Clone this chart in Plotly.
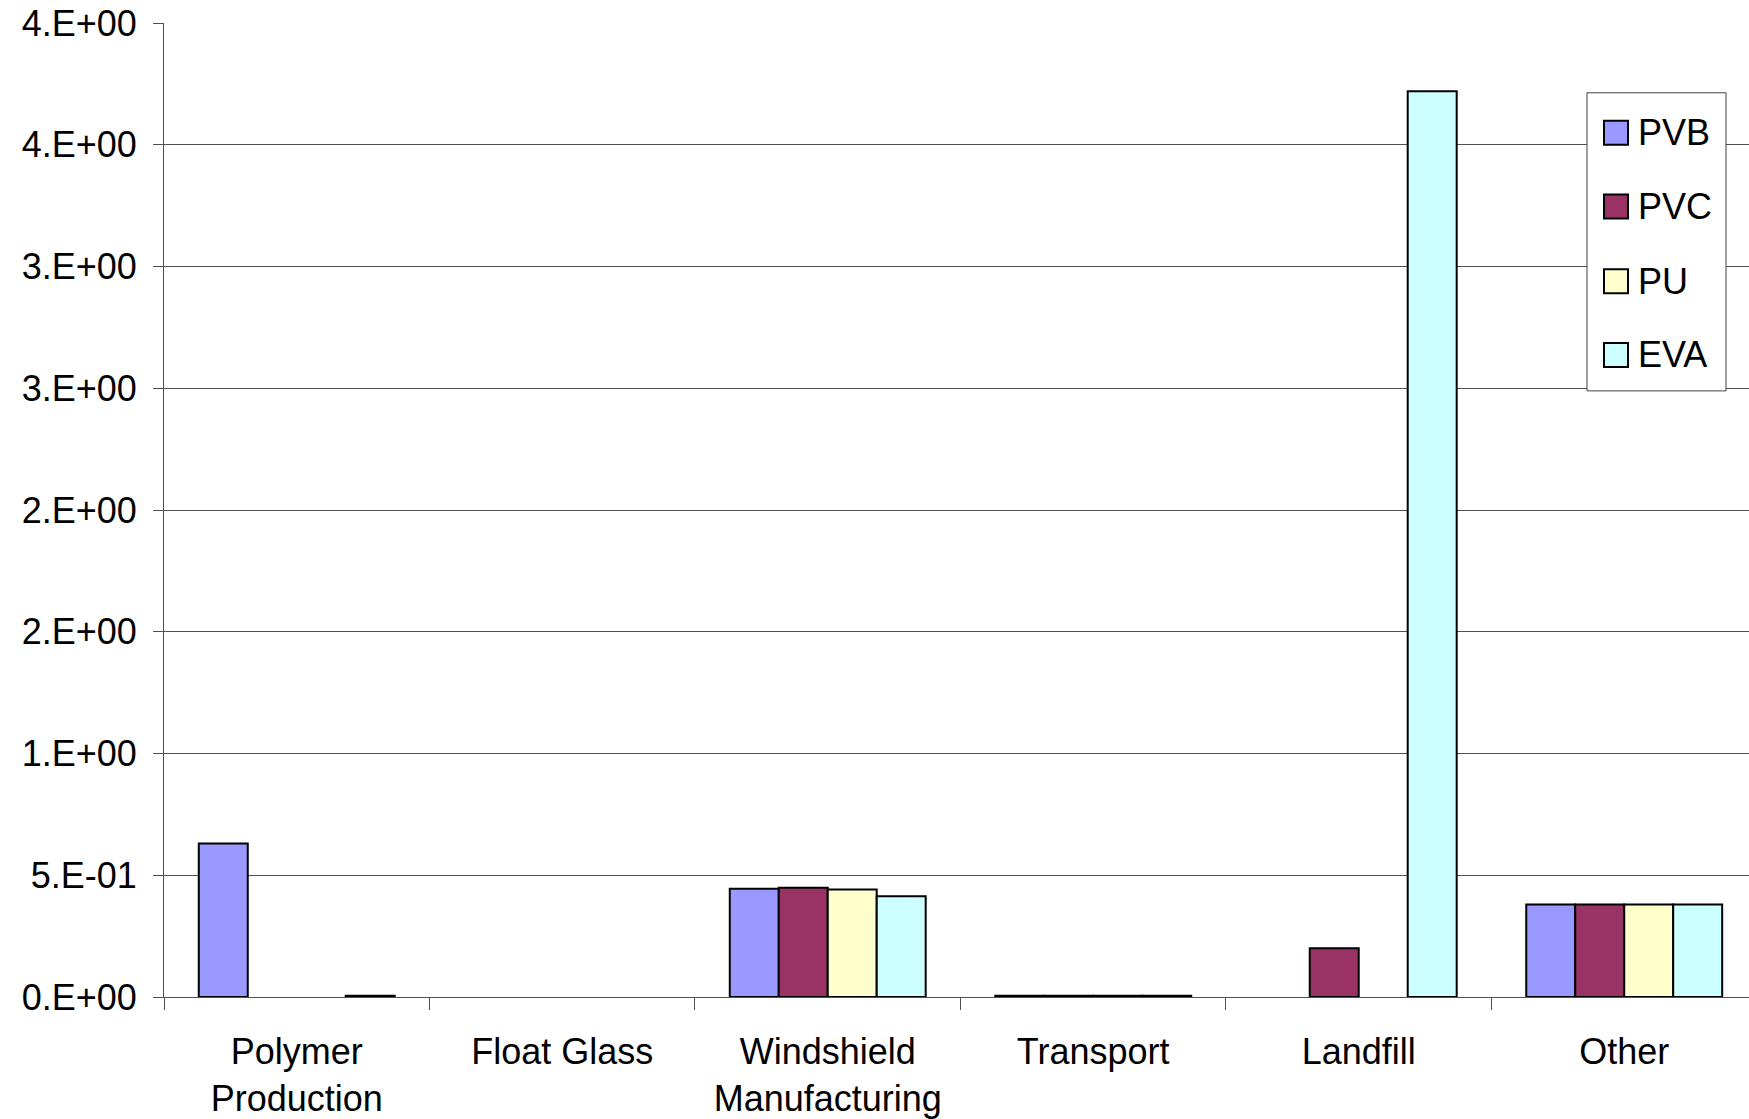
import plotly.graph_objects as go

# Life-cycle stage categories and per-interlayer values
categories = ["Polymer<br>Production", "Float Glass", "Windshield<br>Manufacturing",
              "Transport", "Landfill", "Other"]
pvb = [0.63, None, 0.445, 0.005, None, 0.38]
pvc = [None, None, 0.449, 0.005, 0.20, 0.38]
pu = [None, None, 0.441, 0.005, None, 0.38]
eva = [0.005, None, 0.414, 0.005, 3.72, 0.38]

series_names = ["PVB", "PVC", "PU", "EVA"]
series_values = [pvb, pvc, pu, eva]
series_colors = ["#9999FF", "#993366", "#FFFFCC", "#CCFFFF"]

y_tick_vals = [0, 0.5, 1.0, 1.5, 2.0, 2.5, 3.0, 3.5, 4.0]
y_tick_text = ["0.E+00", "5.E-01", "1.E+00", "2.E+00", "2.E+00",
               "3.E+00", "3.E+00", "4.E+00", "4.E+00"]

FONT = "Liberation Sans, Arial, sans-serif"
FS = 36
W, H = 1749, 1119
ML, MR, MT, MB = 164, 0, 23, 119
PW, PH = W - ML - MR, H - MT - MB


def px_x(p):
    return (p - ML) / PW


def px_y(p):
    return (H - MB - p) / PH


fig = go.Figure()
for name, vals, col in zip(series_names, series_values, series_colors):
    fig.add_trace(go.Bar(
        name=name, x=categories, y=vals,
        marker=dict(color=col, line=dict(color="black", width=2)),
        showlegend=False,
    ))

# Legend drawn as a framed box with large square swatches
shapes = [dict(type="rect", xref="paper", yref="paper",
               x0=px_x(1587), x1=px_x(1726), y0=px_y(392), y1=px_y(93),
               fillcolor="white", line=dict(color="#404040", width=1), layer="above")]
annotations = []
row_centers = [133, 207, 282, 356]
for name, col, cy in zip(series_names, series_colors, row_centers):
    shapes.append(dict(type="rect", xref="paper", yref="paper",
                       x0=px_x(1604), x1=px_x(1628), y0=px_y(cy + 12), y1=px_y(cy - 12),
                       fillcolor=col, line=dict(color="black", width=2), layer="above"))
    annotations.append(dict(xref="paper", yref="paper", x=px_x(1636), y=px_y(cy),
                            xanchor="left", yanchor="middle", text=name, showarrow=False,
                            font=dict(family=FONT, size=FS, color="black")))

fig.update_layout(
    width=W, height=H,
    margin=dict(l=ML, r=MR, t=MT, b=MB, pad=0),
    paper_bgcolor="white", plot_bgcolor="white",
    barmode="group", bargap=0.262, bargroupgap=0,
    font=dict(family=FONT, size=FS, color="black"),
    shapes=shapes, annotations=annotations,
)
fig.update_xaxes(
    type="category", range=[-0.5, 5.47],
    showline=True, linecolor="#505050", linewidth=1,
    ticks="outside", tickson="boundaries", ticklen=12, tickcolor="#505050",
    ticklabelstandoff=23,
    showgrid=False, tickfont=dict(family=FONT, size=FS, color="black"),
)
fig.update_yaxes(
    range=[0, 4.0], tickvals=y_tick_vals, ticktext=y_tick_text,
    showline=True, linecolor="#505050", linewidth=1,
    ticks="outside", ticklen=10, tickcolor="#505050",
    ticklabelstandoff=9,
    showgrid=True, gridcolor="#505050", gridwidth=1, zeroline=False,
    tickfont=dict(family=FONT, size=FS, color="black"),
)

fig.write_html("out.html")
